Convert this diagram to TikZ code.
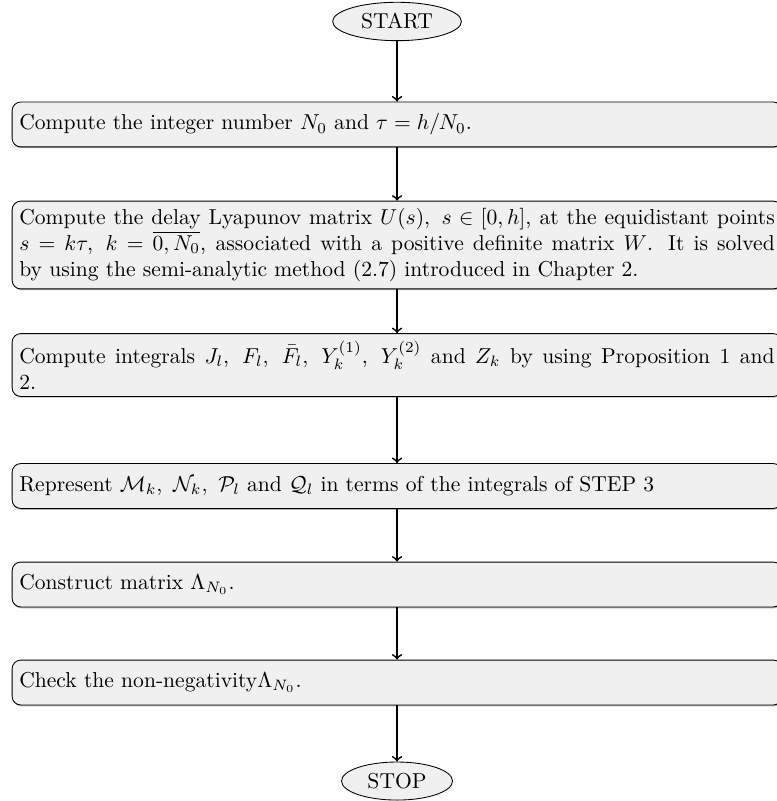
\documentclass[tikz,border=0pt]{standalone}
\usepackage{amssymb}
\usepackage{amsmath}
\usetikzlibrary{shapes.geometric, shadows}

\tikzset{
  stepbox/.style = {draw, rounded corners = 4pt, fill = black!6, text width = 350pt, align = justify, minimum height = 20.8pt,
    drop shadow = {shadow xshift = 0.2pt, shadow yshift = -0.6pt, opacity = 0.6}},
  terminal/.style = {draw, ellipse, fill = black!6, inner xsep = 4.5pt, inner ysep = 2.6pt}
}

\begin{document}
\begin{tikzpicture} [scale = 1]
\useasboundingbox (0.0, 0.0) rectangle (12.652, 13.043);

\node[terminal] (start) at (6.465, 12.693){START};
\node[stepbox] (s1) at (6.465, 11.016){Compute the integer number $N_{0}$ and $\tau = h/N_{0}$.};
\node[stepbox] (s2) at (6.465, 9.053){Compute the delay Lyapunov matrix $U(s),\ s\in [0, h]$, at the equidistant points\linebreak $s = k\tau,\ k = \overline{0, N_{0}}$, associated with a positive definite matrix $W$. It is solved\linebreak by using the semi-analytic method (2.7) introduced in Chapter 2.};
\node[stepbox] (s3) at (6.465, 7.099){Compute integrals $J_{l},\ F_{l},\ \bar{F}_{l},\ Y_{k}^{(1)},\ Y_{k}^{(2)}$ and $Z_{k}$ by using Proposition 1 and\linebreak 2.};
\node[stepbox] (s4) at (6.465, 5.129){Represent $\mathcal{M}_{k},\ \mathcal{N}_{k},\ \mathcal{P}_{l}$ and $\mathcal{Q}_{l}$ in terms of the integrals of STEP 3};
\node[stepbox] (s5) at (6.465, 3.525){Construct matrix $\Lambda_{N_{0}}$.};
\node[stepbox] (s6) at (6.465, 1.929){Check the non-negativity$\Lambda_{N_{0}}$.};
\node[terminal] (stop) at (6.465, 0.325){STOP};

\draw[->, thick] (start) -- (s1);\draw[->, thick] (s1) -- (s2);\draw[->, thick] (s2) -- (s3);
\draw[->, thick] (s3) -- (s4);\draw[->, thick] (s4) -- (s5);\draw[->, thick] (s5) -- (s6);
\draw[->, thick] (s6) -- (stop);
\end{tikzpicture}
\end{document}
